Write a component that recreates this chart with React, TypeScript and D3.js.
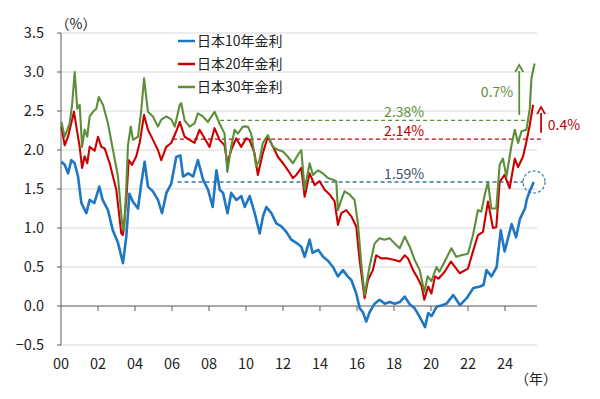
import React from "react";
import * as d3 from "d3";

// [decimal year, yield %]
const jgb10: [number, number][] = [
  [2000.02,1.85],[2000.2,1.81],[2000.38,1.70],[2000.56,1.87],[2000.74,1.83],[2000.92,1.66],[2001.1,1.32],[2001.37,1.19],[2001.55,1.36],[2001.8,1.32],
  [2002.07,1.53],[2002.25,1.36],[2002.54,1.23],[2002.8,0.97],[2003.08,0.81],[2003.35,0.55],[2003.53,0.89],[2003.7,1.44],[2003.88,1.34],[2004.16,1.25],
  [2004.34,1.57],[2004.52,1.85],[2004.7,1.53],[2004.97,1.47],[2005.24,1.36],[2005.46,1.19],[2005.7,1.45],[2005.96,1.57],[2006.23,1.91],[2006.45,1.93],
  [2006.6,1.66],[2006.88,1.70],[2007.14,1.66],[2007.4,1.87],[2007.68,1.62],[2007.95,1.49],[2008.2,1.27],[2008.4,1.74],[2008.58,1.49],[2008.76,1.45],
  [2009.0,1.19],[2009.2,1.45],[2009.48,1.36],[2009.75,1.41],[2009.93,1.27],[2010.2,1.41],[2010.47,1.19],[2010.74,0.93],[2010.92,1.15],[2011.1,1.27],
  [2011.37,1.19],[2011.64,1.06],[2011.91,1.02],[2012.18,0.95],[2012.45,0.85],[2012.72,0.81],[2012.99,0.76],[2013.17,0.63],[2013.44,0.85],[2013.6,0.68],
  [2013.9,0.72],[2014.17,0.63],[2014.43,0.58],[2014.7,0.50],[2014.97,0.38],[2015.24,0.46],[2015.5,0.38],[2015.7,0.33],[2015.96,0.16],[2016.15,-0.03],
  [2016.32,-0.08],[2016.5,-0.20],[2016.68,-0.08],[2016.95,0.03],[2017.22,0.08],[2017.5,0.03],[2017.77,0.05],[2018.04,0.03],[2018.31,0.05],[2018.58,0.12],
  [2018.86,0.02],[2019.12,-0.03],[2019.39,-0.14],[2019.68,-0.27],[2019.85,-0.09],[2020.03,-0.13],[2020.3,-0.01],[2020.6,0.01],[2020.84,0.03],[2021.2,0.14],
  [2021.57,0.01],[2021.93,0.10],[2022.29,0.23],[2022.65,0.25],[2022.84,0.27],[2023.0,0.46],[2023.27,0.38],[2023.55,0.50],[2023.77,0.97],[2023.98,0.70],
  [2024.36,1.05],[2024.6,0.88],[2024.8,1.11],[2025.08,1.25],[2025.17,1.36],[2025.33,1.47],[2025.45,1.53],[2025.55,1.59],
];

const jgb20: [number, number][] = [
  [2000.02,2.30],[2000.2,2.06],[2000.38,2.17],[2000.7,2.49],[2000.83,2.30],[2001.01,2.04],[2001.14,1.77],[2001.28,1.92],[2001.42,1.83],[2001.55,2.04],
  [2001.82,1.99],[2002.0,2.17],[2002.18,2.04],[2002.36,2.02],[2002.63,1.83],[2002.81,1.66],[2002.99,1.49],[2003.26,0.93],[2003.35,0.91],[2003.53,1.36],
  [2003.66,1.87],[2003.84,1.81],[2004.07,1.92],[2004.25,2.09],[2004.49,2.45],[2004.7,2.26],[2004.97,2.13],[2005.24,2.00],[2005.42,1.87],[2005.69,2.04],
  [2005.96,2.09],[2006.23,2.24],[2006.42,2.36],[2006.68,2.17],[2006.95,2.13],[2007.22,2.09],[2007.49,2.26],[2007.76,2.15],[2008.03,2.04],[2008.3,2.28],
  [2008.57,2.13],[2008.84,2.06],[2008.99,1.83],[2009.2,2.00],[2009.47,2.15],[2009.74,2.04],[2010.01,2.15],[2010.19,2.13],[2010.46,1.96],[2010.64,1.68],
  [2010.91,1.96],[2011.18,2.17],[2011.46,2.04],[2011.73,1.91],[2012.0,1.83],[2012.27,1.74],[2012.54,1.64],[2012.72,1.68],[2012.99,1.77],[2013.17,1.40],
  [2013.44,1.70],[2013.71,1.55],[2013.98,1.60],[2014.25,1.49],[2014.52,1.43],[2014.79,1.34],[2014.97,1.04],[2015.15,1.19],[2015.42,1.23],[2015.69,1.15],
  [2015.96,1.02],[2016.14,0.59],[2016.41,0.10],[2016.59,0.33],[2016.86,0.46],[2017.04,0.65],[2017.31,0.61],[2017.67,0.61],[2018.04,0.59],[2018.31,0.57],
  [2018.58,0.65],[2018.76,0.61],[2019.03,0.46],[2019.3,0.35],[2019.5,0.25],[2019.64,0.08],[2019.85,0.25],[2020.02,0.16],[2020.22,0.38],[2020.4,0.35],
  [2020.74,0.44],[2021.08,0.57],[2021.55,0.42],[2022.0,0.48],[2022.27,0.70],[2022.54,0.91],[2022.81,0.95],[2023.08,1.34],[2023.35,1.00],[2023.53,1.01],
  [2023.71,1.59],[2023.98,1.68],[2024.25,1.51],[2024.53,1.89],[2024.71,1.78],[2024.98,1.92],[2025.16,2.11],[2025.34,2.32],[2025.52,2.58],
];

const jgb30: [number, number][] = [
  [2000.02,2.36],[2000.2,2.17],[2000.47,2.34],[2000.6,2.58],[2000.74,3.00],[2000.88,2.53],[2001.01,2.58],[2001.14,2.04],[2001.28,2.26],[2001.42,2.17],
  [2001.55,2.43],[2001.73,2.49],[2001.91,2.53],[2002.04,2.68],[2002.27,2.58],[2002.54,2.34],[2002.81,2.00],[2003.08,1.66],[2003.3,1.06],[2003.41,0.97],
  [2003.53,1.53],[2003.62,2.06],[2003.77,2.30],[2003.89,2.13],[2004.16,2.17],[2004.34,2.51],[2004.49,2.92],[2004.7,2.49],[2004.97,2.43],[2005.24,2.30],
  [2005.42,2.39],[2005.7,2.43],[2005.97,2.39],[2006.15,2.30],[2006.42,2.58],[2006.5,2.60],[2006.68,2.38],[2006.95,2.30],[2007.22,2.34],[2007.4,2.47],
  [2007.67,2.43],[2007.94,2.36],[2008.3,2.49],[2008.57,2.34],[2008.84,2.21],[2008.99,1.72],[2009.2,2.04],[2009.38,2.26],[2009.56,2.21],[2009.83,2.30],
  [2010.1,2.30],[2010.28,2.21],[2010.55,1.79],[2010.73,1.87],[2010.91,2.09],[2011.18,2.19],[2011.46,2.04],[2011.73,2.00],[2012.0,1.98],[2012.27,1.91],
  [2012.54,1.83],[2012.81,1.94],[2012.99,2.00],[2013.17,1.49],[2013.44,1.83],[2013.62,1.68],[2013.89,1.74],[2014.16,1.70],[2014.43,1.64],[2014.7,1.62],
  [2014.88,1.60],[2014.97,1.23],[2015.15,1.36],[2015.33,1.47],[2015.6,1.43],[2015.87,1.36],[2016.05,1.06],[2016.23,0.55],[2016.41,0.14],[2016.68,0.51],
  [2016.95,0.80],[2017.22,0.87],[2017.49,0.85],[2017.76,0.87],[2018.04,0.80],[2018.31,0.74],[2018.58,0.89],[2018.85,0.76],[2019.12,0.59],[2019.39,0.46],
  [2019.64,0.18],[2019.82,0.38],[2020.02,0.32],[2020.3,0.50],[2020.45,0.44],[2020.74,0.57],[2021.1,0.74],[2021.37,0.63],[2021.64,0.65],[2022.0,0.67],
  [2022.27,0.91],[2022.54,1.23],[2022.72,1.21],[2022.9,1.42],[2023.08,1.59],[2023.26,1.25],[2023.53,1.25],[2023.71,1.81],[2023.89,1.89],[2024.08,1.66],
  [2024.35,2.06],[2024.53,2.26],[2024.71,2.09],[2024.89,2.24],[2025.16,2.26],[2025.34,2.53],[2025.43,2.92],[2025.6,3.11],
];

const seriesNames = ["日本10年金利", "日本20年金利", "日本30年金利"];
const seriesColors = ["#1f77c4", "#cc0000", "#5b8f3a"];
const yTicks = [-0.5, 0, 0.5, 1.0, 1.5, 2.0, 2.5, 3.0, 3.5];
const xTickYears = [2000, 2002, 2004, 2006, 2008, 2010, 2012, 2014, 2016, 2018, 2020, 2022, 2024];

// reference levels: value, start year, end year
const refLevels = [
  { v: 2.38, from: 2008.6, to: 2025.08, label: "2.38%", color: "#5b8f3a", text: "#5b8f3a" },
  { v: 2.14, from: 2006.05, to: 2026.0, label: "2.14%", color: "#cc0000", text: "#c00000" },
  { v: 1.59, from: 2006.3, to: 2024.97, label: "1.59%", color: "#2e75b6", text: "#44546a" },
];
const rises = [
  { t: 2024.77, from: 2.45, to: 3.09, label: "0.7%", color: "#5b8f3a" },
  { t: 2025.95, from: 2.22, to: 2.55, label: "0.4%", color: "#cc0000" },
];

const FONT = "'Noto Sans CJK JP', 'Noto Sans', sans-serif";

export default function App() {
  const x = d3.scaleLinear().domain([2000, 2025.73]).range([61, 537]);
  const y = d3.scaleLinear().domain([-0.5, 3.5]).range([345, 33]);
  const line = d3.line<[number, number]>().x(d => x(d[0])).y(d => y(d[1]));
  const all = [jgb10, jgb20, jgb30];
  const widths = [2.6, 2.1, 2.1];

  return (
    <svg width={600} height={399} style={{ position: "absolute", left: 0, top: 0, background: "#fff" }} fontFamily={FONT}>
      {/* grid */}
      {yTicks.filter(v => v !== 0).map(v => (
        <line key={v} x1={x(2000)} x2={x(2025.73)} y1={y(v)} y2={y(v)} stroke="#d9d9d9" strokeWidth={1} />
      ))}
      {/* y axis */}
      <line x1={x(2000)} x2={x(2000)} y1={y(3.5)} y2={y(-0.5)} stroke="#595959" strokeWidth={1} />
      {yTicks.map(v => (
        <g key={v}>
          <line x1={x(2000) - 4} x2={x(2000)} y1={y(v)} y2={y(v)} stroke="#595959" />
          <text x={44} y={y(v)} dy="0.35em" textAnchor="end" fontSize={14.5} fill="#222">
            {v < 0 ? "−" + Math.abs(v).toFixed(1) : v.toFixed(1)}
          </text>
        </g>
      ))}
      {/* x axis at zero */}
      <line x1={x(2000)} x2={x(2025.73)} y1={y(0)} y2={y(0)} stroke="#595959" strokeWidth={1} />
      {xTickYears.map(t => (
        <g key={t}>
          {t > 2000 && <line x1={x(t)} x2={x(t)} y1={y(0)} y2={y(0) + 5} stroke="#595959" />}
          <text x={x(t)} y={364} dy="0.35em" textAnchor="middle" fontSize={14.5} fill="#222">
            {String(t % 100).padStart(2, "0")}
          </text>
        </g>
      ))}
      <text x={76} y={24} dy="0.35em" textAnchor="middle" fontSize={14} fill="#222">（%）</text>
      <text x={536} y={379} dy="0.35em" textAnchor="middle" fontSize={14} fill="#222">（年）</text>

      {/* reference dashed levels */}
      {refLevels.map(r => (
        <line key={r.label} x1={x(r.from)} x2={x(r.to)} y1={y(r.v)} y2={y(r.v)} stroke={r.color} strokeWidth={1.4} strokeDasharray="4,3" />
      ))}

      {/* series */}
      {all.map((s, i) => (
        <path key={i} d={line(s) || ""} fill="none" stroke={seriesColors[i]} strokeWidth={widths[i]} strokeLinejoin="round" />
      ))}

      {/* level labels */}
      {refLevels.map(r => (
        <text key={r.label} x={x(2018.55)} y={y(r.v) - 3} textAnchor="middle" fontSize={14} fill={r.text}>{r.label}</text>
      ))}

      {/* rises */}
      {rises.map(a => (
        <g key={a.label}>
          <line x1={x(a.t)} x2={x(a.t)} y1={y(a.from)} y2={y(a.to) + 6} stroke={a.color} strokeWidth={1.8} />
          <path d={`M${x(a.t) - 4},${y(a.to) + 7} L${x(a.t)},${y(a.to)} L${x(a.t) + 4},${y(a.to) + 7}`} fill="none" stroke={a.color} strokeWidth={1.8} />
        </g>
      ))}
      <text x={497} y={97} textAnchor="middle" fontSize={14} fill="#5b8f3a">{rises[0].label}</text>
      <text x={564} y={130} textAnchor="middle" fontSize={14} fill="#c00000">{rises[1].label}</text>

      {/* circle at latest 10y */}
      <circle cx={x(2025.57)} cy={y(1.59)} r={11} fill="none" stroke="#2e75b6" strokeWidth={1.2} strokeDasharray="3,2" />

      {/* legend */}
      {seriesNames.map((n, i) => (
        <g key={n} transform={`translate(178, ${41 + i * 23})`}>
          <line x1={0} x2={17} y1={0} y2={0} stroke={seriesColors[i]} strokeWidth={2.5} />
          <text x={19} y={0} dy="0.35em" fontSize={14} fill="#222">{n}</text>
        </g>
      ))}
    </svg>
  );
}
